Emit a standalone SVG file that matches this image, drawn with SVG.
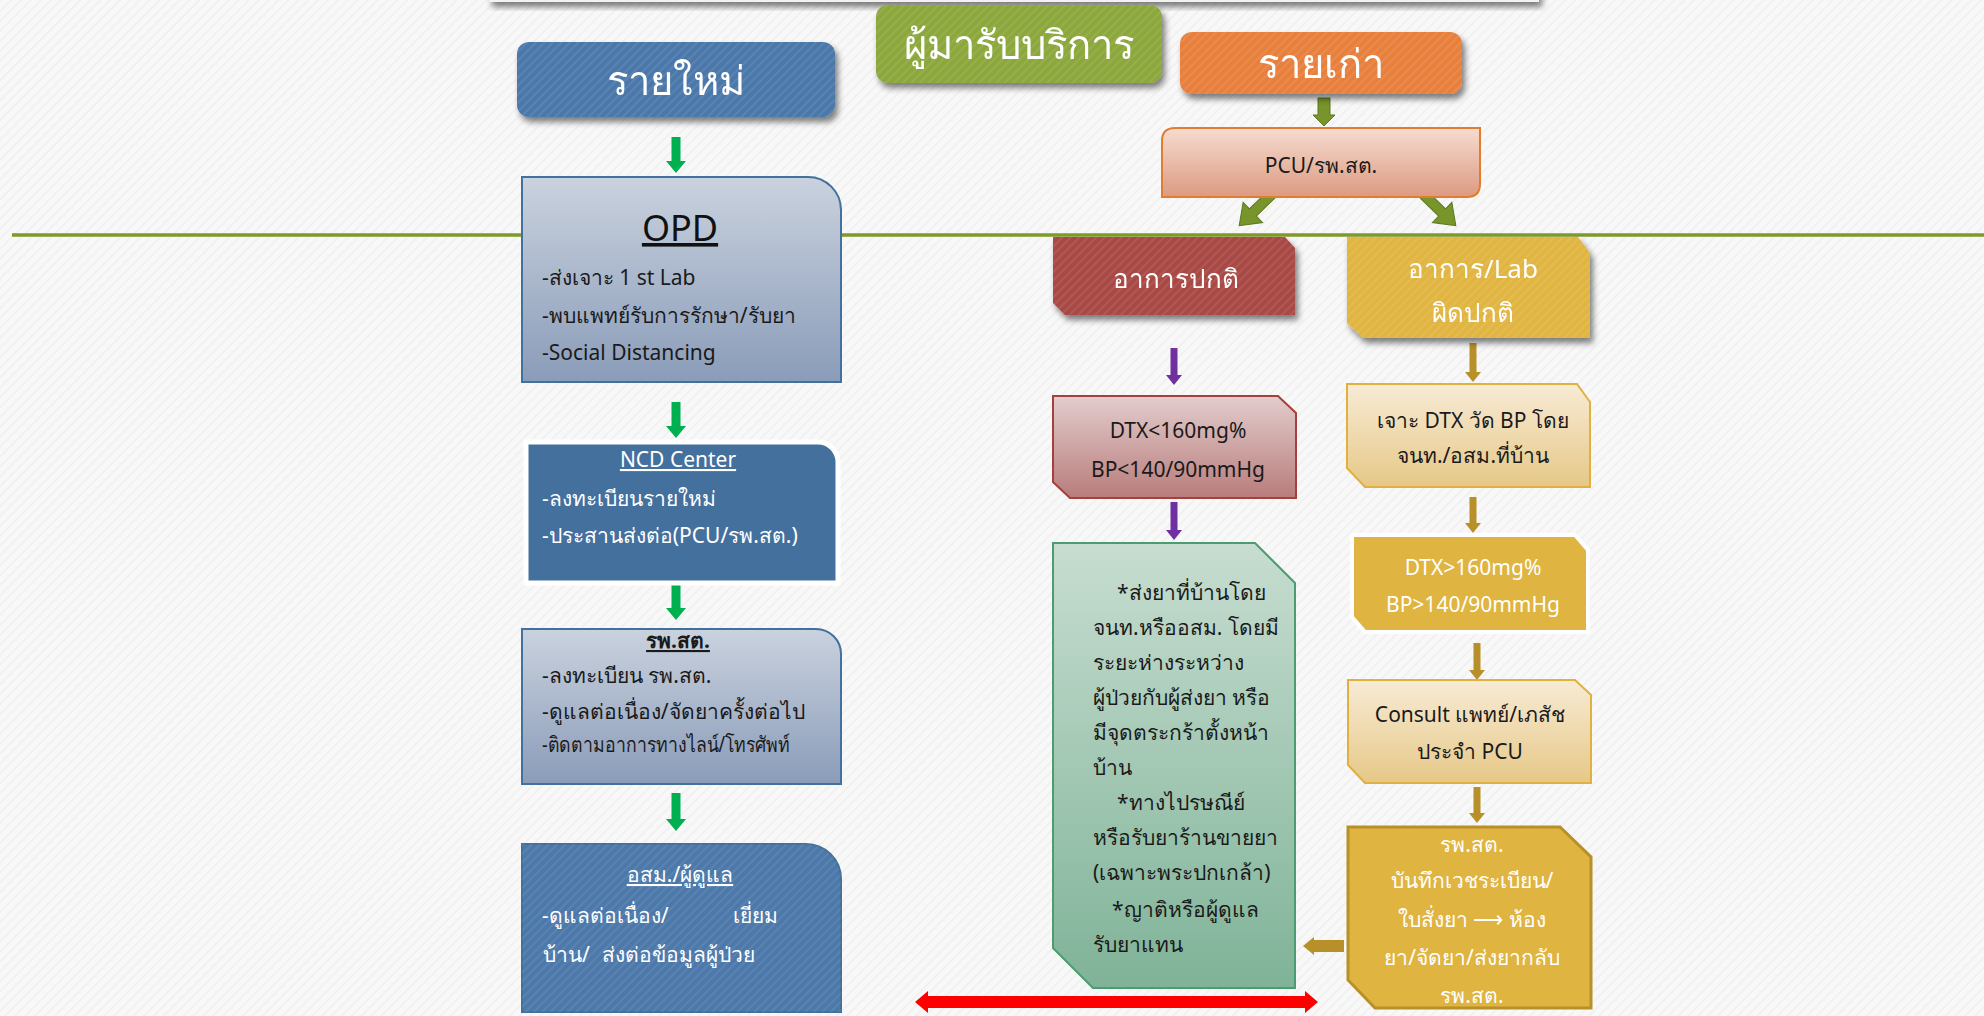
<svg xmlns="http://www.w3.org/2000/svg" width="1984" height="1016" viewBox="0 0 1984 1016">
<defs>
<pattern id="bgtex" patternUnits="userSpaceOnUse" width="7" height="7" patternTransform="rotate(45)">
<rect width="7" height="7" fill="#f8f8f8"/>
<rect width="2" height="7" fill="#f1f1f1"/>
</pattern>
<pattern id="stripes" patternUnits="userSpaceOnUse" width="6" height="6" patternTransform="rotate(45)">
<rect width="2" height="6" fill="#ffffff" fill-opacity="0.08"/>
</pattern>
<filter id="shadow" x="-10%" y="-10%" width="130%" height="150%">
<feGaussianBlur in="SourceAlpha" stdDeviation="3"/>
<feOffset dx="3" dy="5" result="b"/>
<feComponentTransfer><feFuncA type="linear" slope="0.5"/></feComponentTransfer>
<feMerge><feMergeNode/><feMergeNode in="SourceGraphic"/></feMerge>
</filter>
<linearGradient id="gBlueGrey" x1="0" y1="0" x2="0" y2="1">
<stop offset="0" stop-color="#cad2de"/><stop offset="1" stop-color="#8a9cb9"/>
</linearGradient>
<linearGradient id="gPeach" x1="0" y1="0" x2="0" y2="1">
<stop offset="0" stop-color="#f6dcd0"/><stop offset="1" stop-color="#dc9a80"/>
</linearGradient>
<linearGradient id="gRose" x1="0" y1="0" x2="0" y2="1">
<stop offset="0" stop-color="#e3cdcd"/><stop offset="1" stop-color="#b87c7b"/>
</linearGradient>
<linearGradient id="gMint" x1="0" y1="0" x2="0" y2="1">
<stop offset="0" stop-color="#c7ddd0"/><stop offset="1" stop-color="#7fb398"/>
</linearGradient>
<linearGradient id="gCream" x1="0" y1="0" x2="0" y2="1">
<stop offset="0" stop-color="#f8ebd5"/><stop offset="1" stop-color="#e6c887"/>
</linearGradient>
<style>
.t{font-family:"Noto Sans","Open Sans",sans-serif;}
.hd{font-size:40px;fill:#ffffff;text-anchor:middle;}
.bd{font-size:21px;fill:#1a1a1a;}
.wh{fill:#ffffff;}
.mid{text-anchor:middle;}
.ul{text-decoration:underline;}
.ga{fill:#00b050;}
.pa{fill:#7030a0;}
.oa{fill:#b8902a;}
.ol{fill:#77952a;stroke:#5c7720;stroke-width:1;}
</style>
</defs>

<rect x="0" y="0" width="1984" height="1016" fill="url(#bgtex)"/>
<rect x="489" y="-20" width="1050" height="22" fill="#f2f2f2" filter="url(#shadow)"/>
<line x1="12" y1="235" x2="1984" y2="235" stroke="#7f9a28" stroke-width="3.5"/>

<g id="connectors">
<polygon class="ga" points="671.5,137 680.5,137 680.5,161 686,161 676,173 666,161 671.5,161"/>
<polygon class="ga" points="671.5,402 680.5,402 680.5,426 686,426 676,438 666,426 671.5,426"/>
<polygon class="ga" points="671.5,584 680.5,584 680.5,608 686,608 676,620 666,608 671.5,608"/>
<polygon class="ga" points="671.5,793 680.5,793 680.5,819 686,819 676,831 666,819 671.5,819"/>
<polygon class="ol" points="1318,98 1330,98 1330,115 1335,115 1324,126 1313,115 1318,115"/>
<polygon class="ol" points="0,-5 28,-5 28,-14 47,0 28,14 28,5 0,5" transform="translate(1273,193) rotate(136)"/>
<polygon class="ol" points="0,-5 28,-5 28,-14 47,0 28,14 28,5 0,5" transform="translate(1422,193) rotate(44)"/>
<polygon class="pa" points="1170.5,348 1177.5,348 1177.5,375 1182,375 1174,385 1166,375 1170.5,375"/>
<polygon class="pa" points="1170.5,502 1177.5,502 1177.5,530 1182,530 1174,540 1166,530 1170.5,530"/>
<polygon class="oa" points="1469.5,343 1476.5,343 1476.5,372 1481,372 1473,382 1465,372 1469.5,372"/>
<polygon class="oa" points="1469.5,497 1476.5,497 1476.5,523 1481,523 1473,533 1465,523 1469.5,523"/>
<polygon class="oa" points="1473.5,643 1480.5,643 1480.5,670 1485,670 1477,680 1469,670 1473.5,670"/>
<polygon class="oa" points="1473.5,787 1480.5,787 1480.5,813 1485,813 1477,823 1469,813 1473.5,813"/>
<polygon class="oa" points="1344,940 1314,940 1314,937 1303,946 1314,955 1314,952 1344,952"/>
<polygon fill="#ff0000" points="915,1002 928,991 928,996 1305,996 1305,991 1318,1002 1305,1013 1305,1008 928,1008 928,1013"/>
</g>

<g id="header-service" filter="url(#shadow)">
<rect x="876" y="5" width="286" height="78" rx="12" fill="#8ca83e"/>
<rect x="876" y="5" width="286" height="78" rx="12" fill="url(#stripes)"/>
<text class="t hd" x="1019" y="59">ผู้มารับบริการ</text>
</g>

<g id="header-new" filter="url(#shadow)">
<rect x="517" y="42" width="318" height="75" rx="12" fill="#4c78aa"/>
<rect x="517" y="42" width="318" height="75" rx="12" fill="url(#stripes)"/>
<text class="t hd" x="676" y="95">รายใหม่</text>
</g>

<g id="header-old" filter="url(#shadow)">
<rect x="1180" y="32" width="282" height="62" rx="12" fill="#e8803e"/>
<rect x="1180" y="32" width="282" height="62" rx="12" fill="url(#stripes)"/>
<text class="t hd" x="1321" y="78">รายเก่า</text>
</g>

<g id="pcu">
<path d="M1175,128 H1480 V184 Q1480,197 1467,197 H1162 V141 Q1162,128 1175,128 Z" fill="url(#gPeach)" stroke="#e07d30" stroke-width="2"/>
<text class="t bd mid" x="1321" y="173" font-size="23">PCU/รพ.สต.</text>
</g>

<g id="opd">
<path d="M522,177 H808 A33,33 0 0 1 841,210 V382 H522 Z" fill="url(#gBlueGrey)" stroke="#41719c" stroke-width="2"/>
<text class="t mid ul" x="680" y="241" font-size="36" fill="#111">OPD</text>
<text class="t bd" x="542" y="285">-ส่งเจาะ 1 st Lab</text>
<text class="t bd" x="542" y="323">-พบแพทย์รับการรักษา/รับยา</text>
<text class="t bd" x="542" y="360">-Social Distancing</text>
</g>

<g id="ncd">
<path d="M526,442 H818 A20,20 0 0 1 838,462 V583 H526 Z" fill="#44709e" stroke="#ffffff" stroke-width="5"/>
<text class="t bd wh mid ul" x="678" y="467">NCD Center</text>
<text class="t bd wh" x="542" y="506">-ลงทะเบียนรายใหม่</text>
<text class="t bd wh" x="542" y="543">-ประสานส่งต่อ(PCU/รพ.สต.)</text>
</g>

<g id="rpsot">
<path d="M522,629 H816 A25,25 0 0 1 841,654 V784 H522 Z" fill="url(#gBlueGrey)" stroke="#41719c" stroke-width="2"/>
<text class="t bd mid ul" x="678" y="648" font-weight="bold">รพ.สต.</text>
<text class="t bd" x="542" y="683">-ลงทะเบียน รพ.สต.</text>
<text class="t bd" x="542" y="719">-ดูแลต่อเนื่อง/จัดยาครั้งต่อไป</text>
<text class="t bd" x="542" y="752" textLength="248" lengthAdjust="spacingAndGlyphs">-ติดตามอาการทางไลน์/โทรศัพท์</text>
</g>

<g id="osm">
<path d="M522,844 H806 A35,35 0 0 1 841,879 V1012 H522 Z" fill="#4c78aa" stroke="#41719c" stroke-width="2"/>
<path d="M522,844 H806 A35,35 0 0 1 841,879 V1012 H522 Z" fill="url(#stripes)"/>
<text class="t bd wh mid ul" x="680" y="882" font-size="23">อสม./ผู้ดูแล</text>
<text class="t bd wh" x="542" y="923">-ดูแลต่อเนื่อง/</text>
<text class="t bd wh" x="733" y="923">เยี่ยม</text>
<text class="t bd wh" x="543" y="962">บ้าน/</text>
<text class="t bd wh" x="602" y="962">ส่งต่อข้อมูลผู้ป่วย</text>
</g>

<g id="normal" filter="url(#shadow)">
<path d="M1053,237 H1285 L1295,248 V315 H1065 L1053,303 Z" fill="#a94a45"/>
<path d="M1053,237 H1285 L1295,248 V315 H1065 L1053,303 Z" fill="url(#stripes)"/>
<text class="t wh mid" x="1176" y="288" font-size="26">อาการปกติ</text>
</g>

<g id="dtx-low">
<path d="M1053,396 H1278 L1296,413 V498 H1070 L1053,482 Z" fill="url(#gRose)" stroke="#a5403c" stroke-width="2"/>
<text class="t mid" x="1178" y="438" font-size="21" fill="#1a1a1a">DTX&lt;160mg%</text>
<text class="t mid" x="1178" y="477" font-size="21" fill="#1a1a1a">BP&lt;140/90mmHg</text>
</g>

<g id="delivery">
<path d="M1053,543 H1255 L1295,583 V988 H1093 L1053,948 Z" fill="url(#gMint)" stroke="#4c9c72" stroke-width="2"/>
<text class="t bd" x="1117" y="600">*ส่งยาที่บ้านโดย</text>
<text class="t bd" x="1093" y="635">จนท.หรืออสม. โดยมี</text>
<text class="t bd" x="1093" y="670">ระยะห่างระหว่าง</text>
<text class="t bd" x="1093" y="705">ผู้ป่วยกับผู้ส่งยา หรือ</text>
<text class="t bd" x="1093" y="740">มีจุดตระกร้าตั้งหน้า</text>
<text class="t bd" x="1093" y="775">บ้าน</text>
<text class="t bd" x="1117" y="810">*ทางไปรษณีย์</text>
<text class="t bd" x="1093" y="845">หรือรับยาร้านขายยา</text>
<text class="t bd" x="1093" y="880">(เฉพาะพระปกเกล้า)</text>
<text class="t bd" x="1112" y="917">*ญาติหรือผู้ดูแล</text>
<text class="t bd" x="1093" y="952">รับยาแทน</text>
</g>

<g id="abnormal" filter="url(#shadow)">
<path d="M1347,237 H1578 L1590,253 V338 H1363 L1347,323 Z" fill="#e1b542"/>
<path d="M1347,237 H1578 L1590,253 V338 H1363 L1347,323 Z" fill="url(#stripes)"/>
<text class="t wh mid" x="1473" y="278" font-size="26">อาการ/Lab</text>
<text class="t wh mid" x="1473" y="322" font-size="26">ผิดปกติ</text>
</g>

<g id="home-check">
<path d="M1347,384 H1577 L1590,402 V487 H1365 L1347,468 Z" fill="url(#gCream)" stroke="#e0b040" stroke-width="2"/>
<text class="t mid" x="1473" y="428" font-size="21" fill="#1a1a1a">เจาะ DTX วัด BP โดย</text>
<text class="t mid" x="1473" y="463" font-size="21" fill="#1a1a1a">จนท./อสม.ที่บ้าน</text>
</g>

<g id="dtx-high">
<path d="M1352,535 H1575 L1588,550 V632 H1365 L1352,617 Z" fill="#e0b440" stroke="#ffffff" stroke-width="4"/>
<text class="t wh mid" x="1473" y="575" font-size="21">DTX&gt;160mg%</text>
<text class="t wh mid" x="1473" y="612" font-size="21">BP&gt;140/90mmHg</text>
</g>

<g id="consult">
<path d="M1348,680 H1575 L1591,695 V783 H1365 L1348,765 Z" fill="url(#gCream)" stroke="#e0b040" stroke-width="2"/>
<text class="t mid" x="1470" y="722" font-size="21" fill="#1a1a1a">Consult แพทย์/เภสัช</text>
<text class="t mid" x="1470" y="759" font-size="21" fill="#1a1a1a">ประจำ PCU</text>
</g>

<g id="rpsot-gold">
<path d="M1348,827 H1560 L1591,857 V1008 H1375 L1348,980 Z" fill="#e0b440" stroke="#b8902a" stroke-width="3"/>
<text class="t wh mid" x="1472" y="852" font-size="21">รพ.สต.</text>
<text class="t wh mid" x="1472" y="888" font-size="21">บันทึกเวชระเบียน/</text>
<text class="t wh mid" x="1472" y="927" font-size="21">ใบสั่งยา ⟶ ห้อง</text>
<text class="t wh mid" x="1472" y="965" font-size="21">ยา/จัดยา/ส่งยากลับ</text>
<text class="t wh mid" x="1472" y="1003" font-size="21">รพ.สต.</text>
</g>
</svg>
